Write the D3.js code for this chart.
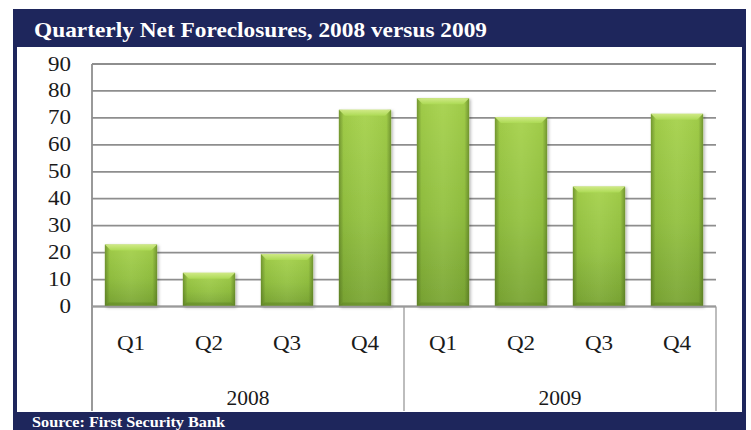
<!DOCTYPE html>
<html>
<head>
<meta charset="utf-8">
<script src="https://cdn.jsdelivr.net/npm/d3@7"></script>
<style>
  html, body { margin: 0; padding: 0; background: #ffffff; }
  svg { display: block; }
</style>
</head>
<body>
<svg id="chart" width="751" height="430"></svg>
<script>
// Quarterly net foreclosures, grouped by year
const years = ["2008", "2009"];
const quarters = ["Q1", "Q2", "Q3", "Q4"];
const values2008 = [23, 12.5, 19.5, 73];
const values2009 = [77.3, 70.3, 44.5, 71.5];
const yTicks = [0, 10, 20, 30, 40, 50, 60, 70, 80, 90];
const titleText = "Quarterly Net Foreclosures, 2008 versus 2009";
const sourceText = "Source: First Security Bank";

const rows = [];
[values2008, values2009].forEach((vals, yi) => {
  vals.forEach((v, qi) => rows.push({ year: years[yi], quarter: quarters[qi], key: years[yi] + "-" + quarters[qi], value: v }));
});

const svg = d3.select("#chart");
const H = 430;
const navy = "#1e265c";
const serif = "'Liberation Serif', 'DejaVu Serif', serif";

// frame: navy border with title band and footer band
svg.append("rect").attr("x", 13).attr("y", 9).attr("width", 733).attr("height", H - 9).attr("fill", navy);
svg.append("rect").attr("x", 17).attr("y", 47).attr("width", 725).attr("height", 365).attr("fill", "#ffffff");

svg.append("text")
  .attr("x", 34).attr("y", 37)
  .attr("fill", "#ffffff")
  .attr("font-family", serif)
  .attr("font-weight", "bold")
  .attr("font-size", 21)
  .attr("textLength", 453).attr("lengthAdjust", "spacingAndGlyphs")
  .text(titleText);

svg.append("text")
  .attr("x", 32).attr("y", 427)
  .attr("fill", "#ffffff")
  .attr("font-family", serif)
  .attr("font-weight", "bold")
  .attr("font-size", 14)
  .attr("textLength", 193).attr("lengthAdjust", "spacingAndGlyphs")
  .text(sourceText);

// scales
const plotLeft = 92, plotRight = 716, plotTop = 64, plotBottom = 306.5, axisBottom = 411;
const x = d3.scaleBand().domain(rows.map(d => d.key)).range([plotLeft, plotRight]).paddingInner(0.33).paddingOuter(0.165);
const y = d3.scaleLinear().domain([0, 90]).range([plotBottom, plotTop]);

// gradients for bars
const defs = svg.append("defs");
const gv = defs.append("linearGradient").attr("id", "barV").attr("x1", 0).attr("y1", 0).attr("x2", 0).attr("y2", 1);
gv.append("stop").attr("offset", "0%").attr("stop-color", "#a6d24c");
gv.append("stop").attr("offset", "55%").attr("stop-color", "#93c141");
gv.append("stop").attr("offset", "100%").attr("stop-color", "#7aa534");
const gh = defs.append("linearGradient").attr("id", "barH").attr("x1", 0).attr("y1", 0).attr("x2", 1).attr("y2", 0);
gh.append("stop").attr("offset", "0%").attr("stop-color", "#3f5a16").attr("stop-opacity", 0.5);
gh.append("stop").attr("offset", "9%").attr("stop-color", "#3f5a16").attr("stop-opacity", 0.06);
gh.append("stop").attr("offset", "50%").attr("stop-color", "#ffffff").attr("stop-opacity", 0.05);
gh.append("stop").attr("offset", "91%").attr("stop-color", "#3f5a16").attr("stop-opacity", 0.06);
gh.append("stop").attr("offset", "100%").attr("stop-color", "#3f5a16").attr("stop-opacity", 0.5);
const gb = defs.append("linearGradient").attr("id", "bevel").attr("x1", 0).attr("y1", 0).attr("x2", 0).attr("y2", 1);
gb.append("stop").attr("offset", "0%").attr("stop-color", "#d4ec8c");
gb.append("stop").attr("offset", "100%").attr("stop-color", "#addb55");
const shadow = defs.append("filter").attr("id", "shadow").attr("x", "-20%").attr("y", "-10%").attr("width", "140%").attr("height", "130%");
shadow.append("feDropShadow").attr("dx", 1.5).attr("dy", 1).attr("stdDeviation", 1.5).attr("flood-color", "#000").attr("flood-opacity", 0.3);

// gridlines
svg.append("g").selectAll("line").data(yTicks).join("line")
  .attr("x1", plotLeft).attr("x2", plotRight)
  .attr("y1", d => y(d)).attr("y2", d => y(d))
  .attr("stroke", "#8e8e8e").attr("stroke-width", 1.8);

// y tick labels (slightly widened serif digits)
svg.append("g").selectAll("text").data(yTicks).join("text")
  .attr("transform", d => `translate(71,${y(d) + 6.5}) scale(1.15,1)`)
  .attr("text-anchor", "end")
  .attr("font-family", serif).attr("font-size", 20).attr("fill", "#1a1a1a")
  .text(d => d);

// category box lines
const axisG = svg.append("g").attr("stroke", "#9a9a9a").attr("stroke-width", 1.3);
axisG.append("line").attr("x1", plotLeft).attr("x2", plotLeft).attr("y1", plotTop).attr("y2", axisBottom)
  .attr("stroke-width", 1.8).attr("stroke", "#8e8e8e");
const gap = x.step() - x.bandwidth();
const yearBounds = years.map((yr, i) => {
  const keys = rows.filter(d => d.year === yr).map(d => d.key);
  return {
    year: yr,
    x0: i === 0 ? plotLeft : x(keys[0]) - gap / 2,
    x1: i === years.length - 1 ? plotRight : x(keys[keys.length - 1]) + x.bandwidth() + gap / 2
  };
});
yearBounds.forEach((b, i) => {
  if (i > 0) axisG.append("line").attr("x1", b.x0).attr("x2", b.x0).attr("y1", plotBottom).attr("y2", axisBottom);
});
axisG.append("line").attr("x1", plotRight).attr("x2", plotRight).attr("y1", plotBottom).attr("y2", axisBottom);

// bars
const bars = svg.append("g").selectAll("g").data(rows).join("g");
bars.append("rect")
  .attr("x", d => x(d.key)).attr("y", d => y(d.value))
  .attr("width", x.bandwidth()).attr("height", d => y(0) - y(d.value))
  .attr("fill", "url(#barV)")
  .attr("filter", "url(#shadow)");
bars.append("rect")
  .attr("x", d => x(d.key)).attr("y", d => y(d.value))
  .attr("width", x.bandwidth()).attr("height", d => y(0) - y(d.value))
  .attr("fill", "url(#barH)");
// top bevel highlight
bars.append("path")
  .attr("d", d => {
    const x0 = x(d.key), x1 = x0 + x.bandwidth(), t = y(d.value), b = 6;
    return `M${x0},${t}L${x1},${t}L${x1 - b},${t + b}L${x0 + b},${t + b}Z`;
  })
  .attr("fill", "url(#bevel)").attr("opacity", 0.9);
// bottom bevel shade
bars.append("path")
  .attr("d", d => {
    const x0 = x(d.key), x1 = x0 + x.bandwidth(), bt = y(0), b = 4;
    return `M${x0},${bt}L${x1},${bt}L${x1 - b},${bt - b}L${x0 + b},${bt - b}Z`;
  })
  .attr("fill", "#5d8424").attr("opacity", 0.5);

// baseline over bars
svg.append("line").attr("x1", plotLeft).attr("x2", plotRight).attr("y1", y(0)).attr("y2", y(0))
  .attr("stroke", "#9a9a9a").attr("stroke-width", 1.3);

// quarter labels
svg.append("g").selectAll("text").data(rows).join("text")
  .attr("transform", d => `translate(${x(d.key) + x.bandwidth() / 2},350) scale(1.1,1)`)
  .attr("text-anchor", "middle")
  .attr("font-family", serif).attr("font-size", 21).attr("fill", "#1a1a1a")
  .text(d => d.quarter);

// year labels
svg.append("g").selectAll("text").data(yearBounds).join("text")
  .attr("x", d => (d.x0 + d.x1) / 2).attr("y", 405)
  .attr("text-anchor", "middle")
  .attr("font-family", serif).attr("font-size", 21.5).attr("fill", "#1a1a1a")
  .text(d => d.year);
</script>
</body>
</html>
